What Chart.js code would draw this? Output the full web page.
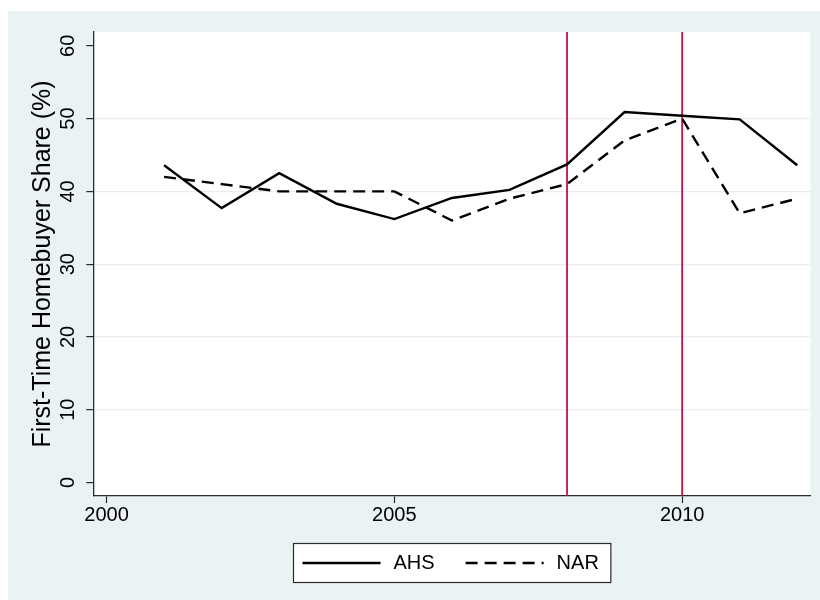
<!DOCTYPE html>
<html>
<head>
<meta charset="utf-8">
<title>First-Time Homebuyer Share</title>
<script src="https://cdn.jsdelivr.net/npm/chart.js@4/dist/chart.umd.min.js"></script>
<style>
  html, body { margin: 0; padding: 0; background: #ffffff; }
  canvas { display: block; }
</style>
</head>
<body>
<canvas id="chart" width="820" height="600"></canvas>
<script>
// Survey years and first-time homebuyer share (%) from each source
const years = [2001, 2002, 2003, 2004, 2005, 2006, 2007, 2008, 2009, 2010, 2011, 2012];
const ahsShare = [43.6, 37.7, 42.5, 38.3, 36.2, 39.1, 40.2, 43.7, 50.9, 50.4, 49.9, 43.6];
const narShare = [42, 41, 40, 40, 40, 36, 39, 41, 47, 50, 37, 39];

// Axis ticks and reference years marked with vertical lines
const xTicks = [2000, 2005, 2010];
const yTicks = [0, 10, 20, 30, 40, 50, 60];
const markerYears = [2008, 2010];

const FONT = "'Liberation Sans', Arial, Helvetica, sans-serif";
const REGION_BG = '#eaf2f3';
const GRID = '#e6eef1';
const AXIS = '#2b2b2b';
const MARKER = '#c8103f';

Chart.defaults.font.family = FONT;
Chart.defaults.color = '#000000';

const toPoints = (xs, ys) => xs.map((x, i) => ({ x: x, y: ys[i] }));

// Graph region fill and white plot region
const regionBackground = {
  id: 'regionBackground',
  beforeDraw(chart) {
    const { ctx, chartArea, width, height } = chart;
    ctx.save();
    ctx.fillStyle = '#ffffff';
    ctx.fillRect(0, 0, width, height);
    ctx.fillStyle = REGION_BG;
    ctx.fillRect(8, 11, width - 8, height - 11);
    ctx.fillStyle = '#ffffff';
    ctx.fillRect(chartArea.left, chartArea.top, chartArea.right - chartArea.left, chartArea.bottom - chartArea.top);
    ctx.restore();
  }
};

// Vertical lines at the marked years
const yearMarkers = {
  id: 'yearMarkers',
  beforeDatasetsDraw(chart) {
    const { ctx, chartArea, scales } = chart;
    ctx.save();
    ctx.strokeStyle = MARKER;
    ctx.lineWidth = 1.8;
    markerYears.forEach(yr => {
      const px = scales.x.getPixelForValue(yr);
      ctx.beginPath();
      ctx.moveTo(px, chartArea.top);
      ctx.lineTo(px, chartArea.bottom);
      ctx.stroke();
    });
    ctx.restore();
  }
};

// Boxed legend below the axis, centred on the plot region
const boxedLegend = {
  id: 'boxedLegend',
  afterDraw(chart) {
    const { ctx, chartArea } = chart;
    const sets = chart.data.datasets;
    const sample = 78, gapText = 13, gapItem = 31, padL = 9, padR = 12;
    const boxTop = 543, boxH = 39;
    ctx.save();
    ctx.font = '20px ' + FONT;
    const widths = sets.map(ds => ctx.measureText(ds.label).width);
    let total = padL + padR + gapItem * (sets.length - 1);
    widths.forEach(w => { total += sample + gapText + w; });
    const cx = (chartArea.left + chartArea.right) / 2;
    const left = Math.round(cx - total / 2) + 0.5;
    ctx.fillStyle = '#ffffff';
    ctx.fillRect(left, boxTop + 0.5, total, boxH);
    ctx.strokeStyle = AXIS;
    ctx.lineWidth = 1.2;
    ctx.strokeRect(left, boxTop + 0.5, total, boxH);
    const midY = boxTop + boxH / 2 + 0.5;
    let x = left + padL;
    sets.forEach((ds, i) => {
      ctx.beginPath();
      ctx.strokeStyle = ds.borderColor;
      ctx.lineWidth = ds.borderWidth;
      ctx.setLineDash(ds.borderDash || []);
      ctx.moveTo(x, midY);
      ctx.lineTo(x + sample, midY);
      ctx.stroke();
      ctx.setLineDash([]);
      x += sample + gapText;
      ctx.fillStyle = '#000000';
      ctx.textBaseline = 'middle';
      ctx.textAlign = 'left';
      ctx.fillText(ds.label, x, midY);
      x += widths[i] + gapItem;
    });
    ctx.restore();
  }
};

new Chart(document.getElementById('chart').getContext('2d'), {
  type: 'line',
  data: {
    datasets: [
      {
        label: 'AHS',
        data: toPoints(years, ahsShare),
        borderColor: '#000000',
        borderWidth: 2.4,
        pointRadius: 0,
        tension: 0,
        fill: false
      },
      {
        label: 'NAR',
        data: toPoints(years, narShare),
        borderColor: '#000000',
        borderWidth: 2.4,
        borderDash: [12, 7],
        pointRadius: 0,
        tension: 0,
        fill: false
      }
    ]
  },
  options: {
    responsive: false,
    animation: false,
    layout: { padding: { left: 8, top: 32, right: 9.5, bottom: 74 } },
    plugins: {
      legend: { display: false },
      tooltip: { enabled: false }
    },
    scales: {
      x: {
        type: 'linear',
        min: 1999.77,
        max: 2012.23,
        afterBuildTicks: s => { s.ticks = xTicks.map(v => ({ value: v })); },
        afterFit: s => { s.height = 30; },
        grid: {
          drawOnChartArea: false,
          drawTicks: true,
          tickLength: 7,
          tickColor: AXIS,
          tickWidth: 1.2
        },
        border: { display: true, color: AXIS, width: 1.3 },
        ticks: {
          font: { size: 20 },
          color: '#000000',
          padding: 0,
          maxRotation: 0,
          autoSkip: false,
          callback: v => String(v)
        }
      },
      y: {
        type: 'linear',
        min: -1.85,
        max: 61.9,
        afterBuildTicks: s => { s.ticks = yTicks.map(v => ({ value: v })); },
        afterFit: s => { s.width = 85.3; },
        grid: {
          color: c => (c.tick && (c.tick.value === yTicks[0] || c.tick.value === yTicks[yTicks.length - 1])) ? 'rgba(0,0,0,0)' : GRID,
          lineWidth: 1.2,
          drawTicks: true,
          tickLength: 7,
          tickColor: AXIS,
          tickWidth: 1.2
        },
        border: { display: true, color: AXIS, width: 1.3 },
        ticks: {
          font: { size: 20 },
          color: '#000000',
          minRotation: 90,
          maxRotation: 90,
          crossAlign: 'center',
          padding: 6.7,
          autoSkip: false,
          callback: v => String(v)
        },
        title: {
          display: true,
          text: 'First-Time Homebuyer Share (%)',
          font: { size: 25 },
          color: '#000000',
          padding: { top: 20, bottom: 0 }
        }
      }
    }
  },
  plugins: [regionBackground, yearMarkers, boxedLegend]
});
</script>
</body>
</html>
